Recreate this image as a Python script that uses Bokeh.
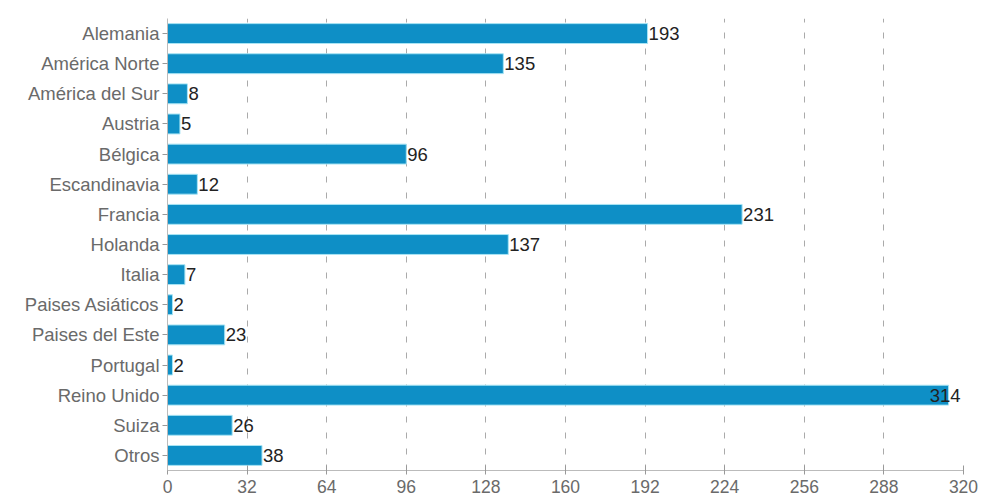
from bokeh.plotting import figure
from bokeh.models import ColumnDataSource, FactorRange, Range1d, FixedTicker
from bokeh.core.properties import value
from bokeh.embed import file_html
from bokeh.resources import INLINE

categories = ["Alemania", "América Norte", "América del Sur", "Austria", "Bélgica",
              "Escandinavia", "Francia", "Holanda", "Italia", "Paises Asiáticos",
              "Paises del Este", "Portugal", "Reino Unido", "Suiza", "Otros"]
values = [193, 135, 8, 5, 96, 12, 231, 137, 7, 2, 23, 2, 314, 26, 38]
x_ticks = [0, 32, 64, 96, 128, 160, 192, 224, 256, 288, 320]
x_max = 320
label_clamp = 306

src = ColumnDataSource(dict(
    cat=categories,
    val=values,
    lx=[min(v, label_clamp) for v in values],
    txt=[str(v) for v in values],
))

FONT = "Liberation Sans"

p = figure(width=984, height=500, output_backend="svg", toolbar_location=None,
           y_range=FactorRange(factors=list(reversed(categories)), range_padding=0),
           x_range=Range1d(0, x_max),
           min_border_left=167, min_border_right=21, min_border_top=18, min_border_bottom=30)
p.outline_line_color = None
p.background_fill_color = "white"
p.border_fill_color = "white"

p.hbar(y="cat", right="val", left=0, height=0.66, source=src,
       fill_color="#0e8fc6", line_color="#a8e4f4", line_width=1)

p.text(x="lx", y="cat", text="txt", source=src, text_align="left", text_baseline="middle",
       text_font=value(FONT), text_font_size="18.5px", text_color="#222222", x_offset=1)

p.xaxis.ticker = FixedTicker(ticks=x_ticks)
p.xaxis.axis_line_color = "#bbbbbb"
p.xaxis.major_tick_line_color = "#999999"
p.xaxis.major_tick_in = 5
p.xaxis.major_tick_out = 4
p.xaxis.minor_tick_line_color = None
p.xaxis.major_label_standoff = 5
p.xaxis.major_label_text_font = FONT
p.xaxis.major_label_text_font_size = "17.5px"
p.xaxis.major_label_text_color = "#6a6a6a"

p.yaxis.axis_line_color = "#bbbbbb"
p.yaxis.major_tick_line_color = "#999999"
p.yaxis.major_tick_in = 0
p.yaxis.major_tick_out = 5
p.yaxis.major_label_standoff = 3
p.yaxis.major_label_text_font = FONT
p.yaxis.major_label_text_font_size = "18.5px"
p.yaxis.major_label_text_color = "#6a6a6a"

p.xgrid.ticker = FixedTicker(ticks=x_ticks[1:])
p.xgrid.grid_line_color = "#aaaaaa"
p.xgrid.grid_line_dash = "6 10"
p.xgrid.grid_line_width = 1
p.ygrid.grid_line_color = None

open("out.html", "w").write(file_html(p, INLINE))
